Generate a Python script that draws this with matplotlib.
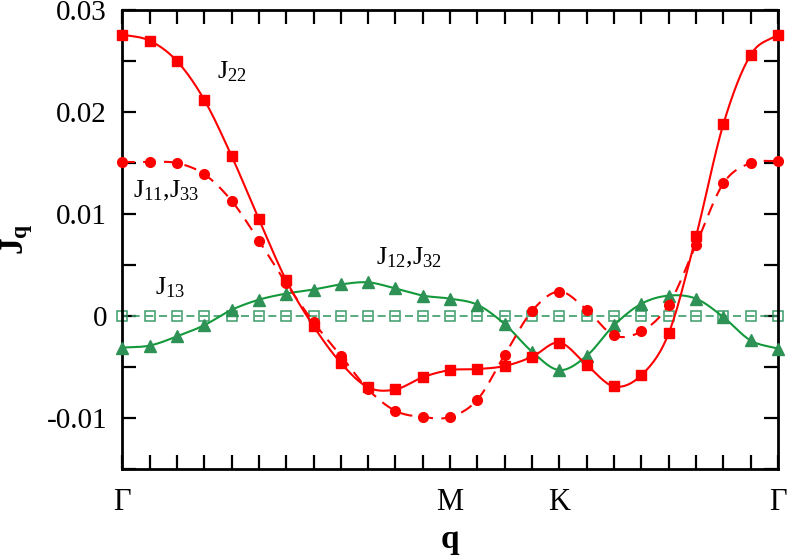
import numpy as np
import matplotlib
matplotlib.use("Agg")
import matplotlib.pyplot as plt

plt.rcParams['font.family'] = ['Liberation Serif', 'DejaVu Serif']
plt.rcParams['mathtext.fontset'] = 'custom'
plt.rcParams['mathtext.rm'] = 'Liberation Serif'
plt.rcParams['mathtext.bf'] = 'Liberation Serif:bold'
plt.rcParams['mathtext.default'] = 'regular'

# q path index (Gamma - M - K - Gamma)
q_idx = list(range(25))
sym_pos = [0, 12, 16, 24]
sym_labels = ['Γ', 'M', 'K', 'Γ']

# values
j22 = [0.0276, 0.0270, 0.0250, 0.0212, 0.0157, 0.0095, 0.0035, -0.0010,
       -0.0046, -0.0070, -0.0072, -0.0060, -0.0053, -0.0052, -0.0049,
       -0.0040, -0.0026, -0.0048, -0.0069, -0.0058, -0.0017, 0.0078,
       0.0188, 0.0256, 0.0276]
j11_j33 = [0.0151, 0.0151, 0.0150, 0.0139, 0.0113, 0.0074, 0.0032, -0.0006,
           -0.0039, -0.0072, -0.0093, -0.0099, -0.0099, -0.0082, -0.0038,
           0.0005, 0.0024, 0.0006, -0.0019, -0.0015, 0.0011, 0.0070,
           0.0130, 0.0150, 0.0152]
j12_j32 = [-0.0031, -0.0029, -0.0020, -0.0009, 0.0006, 0.0016, 0.0022, 0.0026,
           0.0031, 0.0033, 0.0027, 0.0020, 0.0017, 0.0011, -0.0008, -0.0035,
           -0.0053, -0.0039, -0.0009, 0.0012, 0.0020, 0.0017, -0.0001,
           -0.0024, -0.0032]
j13 = [0.0] * 25

ytick_vals = [0.03, 0.02, 0.01, 0.0, -0.01]
ytick_labels = ['0.03', '0.02', '0.01', '0', '-0.01']

RED = '#ff0000'
GREEN_LINE = '#13993a'
GREEN_MARK = '#2e9155'
GREEN_OPEN = '#3c9c6a'


def smooth(x, y, n=16):
    # Catmull-Rom curve through the points, for drawing the line only
    x = np.asarray(x, float)
    y = np.asarray(y, float)
    px = np.concatenate([[2 * x[0] - x[1]], x, [2 * x[-1] - x[-2]]])
    py = np.concatenate([[2 * y[0] - y[1]], y, [2 * y[-1] - y[-2]]])
    t = np.linspace(0, 1, n, endpoint=False)
    xs, ys = [], []
    for i in range(1, len(px) - 2):
        for p, out in ((px, xs), (py, ys)):
            p0, p1, p2, p3 = p[i - 1], p[i], p[i + 1], p[i + 2]
            out.extend(0.5 * (2 * p1 + (-p0 + p2) * t
                              + (2 * p0 - 5 * p1 + 4 * p2 - p3) * t ** 2
                              + (-p0 + 3 * p1 - 3 * p2 + p3) * t ** 3))
    xs.append(x[-1])
    ys.append(y[-1])
    return np.array(xs), np.array(ys)


fig = plt.figure(figsize=(7.89, 5.59), dpi=100)
ax = fig.add_axes([0.155, 0.161, 0.831, 0.821])

# J13 open squares, dashed (dash centred on each marker and between them)
ax.plot(q_idx, j13, color=GREEN_OPEN, lw=1.2, ls=(2.4, (4.8, 3.4)),
        marker='s', ms=7.5, mfc='none', mec=GREEN_OPEN, mew=1.1,
        clip_on=False, zorder=2)

# J12,J32 triangles
sx, sy = smooth(q_idx, j12_j32)
ax.plot(sx, sy, color=GREEN_LINE, lw=1.5, zorder=3)
ax.plot(q_idx, j12_j32, ls='none', marker='^', ms=8, color=GREEN_MARK,
        clip_on=False, zorder=3)

# J11,J33 circles, dashed
sx, sy = smooth(q_idx, j11_j33)
ax.plot(sx, sy, color=RED, lw=1.5, ls=(0, (6, 4)), zorder=4)
ax.plot(q_idx, j11_j33, ls='none', marker='o', ms=7, color=RED,
        clip_on=False, zorder=4)

# J22 squares
sx, sy = smooth(q_idx, j22)
ax.plot(sx, sy, color=RED, lw=1.5, zorder=5)
ax.plot(q_idx, j22, ls='none', marker='s', ms=7.5, color=RED,
        clip_on=False, zorder=5)

ax.set_xlim(0, 24)
ax.set_ylim(-0.015, 0.03)

xlabels = [''] * 25
for p, lab in zip(sym_pos, sym_labels):
    xlabels[p] = lab
ax.set_xticks(q_idx)
ax.set_xticklabels(xlabels, fontsize=22)
ax.set_yticks(ytick_vals)
ax.set_yticklabels(ytick_labels, fontsize=21)
ax.set_yticks(np.arange(-0.015, 0.0301, 0.005), minor=True)

ax.tick_params(axis='both', which='both', direction='in', top=True,
               right=True, width=1.6, length=10, color='black')
ax.tick_params(axis='x', pad=14)
ax.tick_params(axis='y', pad=11)
for s in ax.spines.values():
    s.set_linewidth(2)

ax.set_xlabel('q', fontsize=24, fontweight='bold', labelpad=5)
ax.set_ylabel(r'$\mathbf{J_q}$', fontsize=24, labelpad=8)

ax.text(3.45, 0.0240, 'J$_{22}$', fontsize=19, va='center')
ax.text(0.38, 0.0123, 'J$_{11}$,J$_{33}$', fontsize=19, va='center')
ax.text(9.3, 0.0057, 'J$_{12}$,J$_{32}$', fontsize=19, va='center')
ax.text(1.2, 0.0028, 'J$_{13}$', fontsize=19, va='center')

fig.savefig('out.png', dpi=100)
